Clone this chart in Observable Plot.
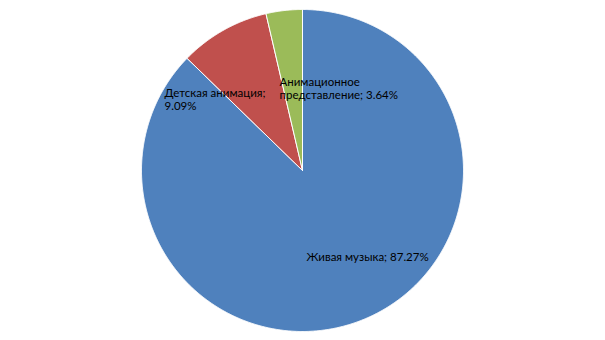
<!DOCTYPE html>
<html>
<head>
<meta charset="utf-8">
<script src="https://cdn.jsdelivr.net/npm/d3@7"></script>
<script src="https://cdn.jsdelivr.net/npm/@observablehq/plot@0.6"></script>
<style>
  html, body { margin: 0; padding: 0; background: #fff; }
  #chart { width: 605px; height: 340px; }
</style>
</head>
<body>
<div id="chart"></div>
<script>
const categories = ["Живая музыка", "Детская анимация", "Анимационное представление"];
const values = [87.27, 9.09, 3.64];
const labelTexts = ["Живая музыка; 87.27%", "Детская анимация;\n9.09%", "Анимационное\nпредставление; 3.64%"];
const colors = ["#4F81BD", "#C0504D", "#9BBB59"];

const pie = d3.pie().sort(null).value(d => d.value);
const arcs = pie(categories.map((c, i) => ({category: c, value: values[i]})));

// polygon points for each slice in unit-circle coordinates (angle clockwise from top)
const pts = [];
arcs.forEach(a => {
  const c = a.data.category;
  pts.push({category: c, x: 0, y: 0});
  const n = Math.max(2, Math.ceil((a.endAngle - a.startAngle) / 0.005));
  for (let k = 0; k <= n; k++) {
    const t = a.startAngle + (a.endAngle - a.startAngle) * k / n;
    pts.push({category: c, x: Math.sin(t), y: Math.cos(t)});
  }
  pts.push({category: c, x: 0, y: 0});
});

const labelR = 0.55;
const labels = arcs.map((a, i) => {
  const m = (a.startAngle + a.endAngle) / 2;
  return {category: a.data.category, text: labelTexts[i], x: labelR * Math.sin(m), y: labelR * Math.cos(m)};
});
const offsets = [[-30.5, 5.4], [-94.4, 6], [-12.9, 6]];

const cx = 302, cy = 170, r = 161;
const chart = Plot.plot({
  width: 605,
  height: 340,
  margin: 0,
  style: {background: "#fff", fontFamily: "Lato, 'Open Sans', sans-serif"},
  x: {domain: [-1, 1], range: [cx - r, cx + r], axis: null},
  y: {domain: [-1, 1], range: [cy + r, cy - r], axis: null},
  color: {domain: categories, range: colors},
  marks: [
    Plot.line(pts, {x: "x", y: "y", z: "category", fill: "category", stroke: "#fff", strokeWidth: 1, curve: "linear"}),
    ...labels.map((l, i) => Plot.text([l], {
      x: "x", y: "y", text: "text",
      textAnchor: "start", lineAnchor: "middle", lineHeight: 1.09,
      dx: offsets[i][0], dy: offsets[i][1],
      fontSize: 11.5, fill: "#000"
    }))
  ]
});
document.getElementById("chart").appendChild(chart);
</script>
</body>
</html>
